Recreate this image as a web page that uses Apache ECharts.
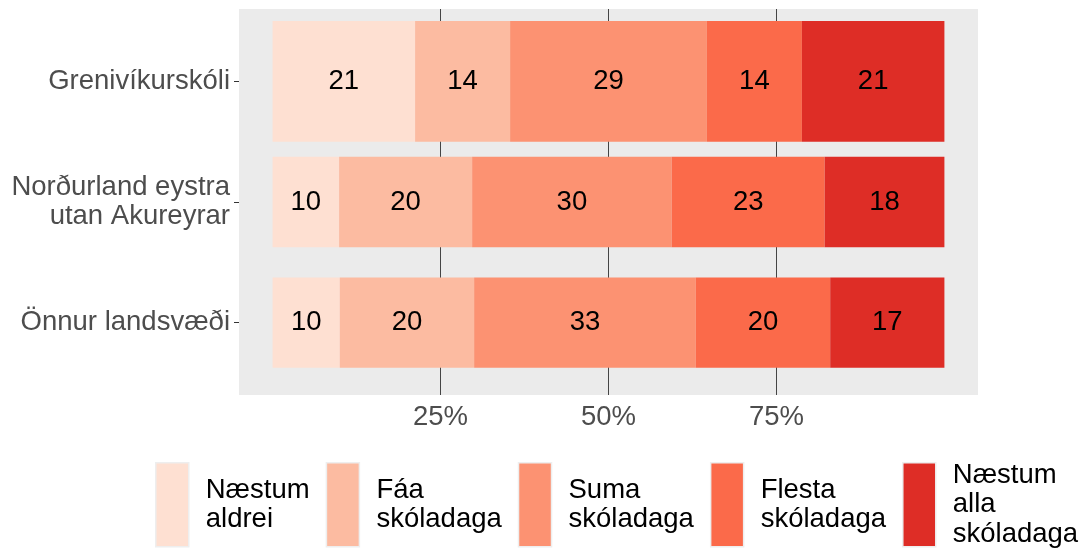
<!DOCTYPE html>
<html>
<head>
<meta charset="utf-8">
<script src="https://cdn.jsdelivr.net/npm/echarts@6/dist/echarts.min.js"></script>
<style>
  html, body { margin: 0; padding: 0; background: #ffffff; }
  #chart { width: 1086px; height: 553px; }
</style>
</head>
<body>
<div id="chart"></div>
<script>
// Groups, top to bottom
const groups = ['Grenivíkurskóli', 'Norðurland eystra utan Akureyrar', 'Önnur landsvæði'];
// Answer levels, left to right
const levels = ['Næstum aldrei', 'Fáa skóladaga', 'Suma skóladaga', 'Flesta skóladaga', 'Næstum alla skóladaga'];
// Percent of answers per level, one array per group
const grenivik = [21, 14, 29, 14, 21];
const nordurland = [10, 20, 30, 23, 18];
const onnur = [10, 20, 33, 20, 17];
// Percent axis tick labels
const xTicks = [25, 50, 75];

// ---- styling ----
const COLORS = ['#FEE0D2', '#FCBBA1', '#FC9272', '#FB6A4A', '#DE2D26'];
const BAR_THICKNESS = [1, 0.75, 0.75];   // share of a row's band taken by its bar
const FONT = '"Liberation Sans", Arial, Helvetica, sans-serif';
const FS = 27.5;

const rows = [grenivik, nordurland, onnur];
const sum = a => a.reduce((s, v) => s + v, 0);

function wrap(text, width) {
  const lines = [];
  let cur = '';
  text.split(' ').forEach(w => {
    if (!cur) cur = w;
    else if ((cur + ' ' + w).length <= width) cur += ' ' + w;
    else { lines.push(cur); cur = w; }
  });
  lines.push(cur);
  return lines.join('\n');
}

// Each level becomes one series; bars are stacked to fill 100% of each row
const series = levels.map((lvl, li) => ({
  type: 'custom',
  name: lvl,
  coordinateSystem: 'cartesian2d',
  itemStyle: { color: COLORS[li] },
  encode: { x: [0, 1], y: 2 },
  data: rows.map((r, gi) => {
    const total = sum(r);
    const start = sum(r.slice(0, li)) / total * 100;
    const end = start + r[li] / total * 100;
    return [start, end, gi + 1, r[li]];
  }),
  renderItem: (params, api) => {
    const row = api.value(2);
    const p0 = api.coord([api.value(0), row]);
    const p1 = api.coord([api.value(1), row]);
    const h = api.size([0, 1])[1] * BAR_THICKNESS[row - 1];
    return {
      type: 'group',
      children: [
        {
          type: 'rect',
          shape: { x: p0[0], y: p0[1] - h / 2, width: p1[0] - p0[0], height: h },
          style: { fill: api.visual('color') }
        },
        {
          type: 'text',
          x: (p0[0] + p1[0]) / 2,
          y: p0[1],
          style: {
            text: String(api.value(3)),
            fill: '#000000',
            fontSize: FS,
            fontFamily: FONT,
            align: 'center',
            verticalAlign: 'middle'
          }
        }
      ]
    };
  }
}));

const chart = echarts.init(document.getElementById('chart'), null, { renderer: 'canvas' });
chart.setOption({
  animation: false,
  backgroundColor: '#ffffff',
  textStyle: { fontFamily: FONT },
  grid: {
    left: 239, top: 9, width: 739, height: 386,
    show: true, backgroundColor: '#EBEBEB', borderWidth: 0
  },
  xAxis: {
    type: 'value',
    min: -5, max: 105,
    axisLine: { show: false, onZero: false },
    axisTick: { show: false, customValues: xTicks },
    axisLabel: {
      customValues: xTicks,
      formatter: '{value}%',
      fontSize: FS, color: '#4D4D4D', margin: 8, fontFamily: FONT
    },
    splitLine: { show: true, lineStyle: { color: '#444444', width: 1 } }
  },
  yAxis: {
    type: 'value',
    min: 0.4, max: 3.6,
    inverse: true,
    axisLine: { show: false, onZero: false },
    axisTick: { show: true, length: 5, customValues: [1, 2, 3], lineStyle: { color: '#333333', width: 1 } },
    axisLabel: {
      customValues: [1, 2, 3],
      formatter: v => wrap(groups[Math.round(v) - 1], 20),
      fontSize: FS, color: '#4D4D4D', lineHeight: 29.5, margin: 9, fontFamily: FONT
    },
    splitLine: { show: false }
  },
  legend: {
    left: 155, top: 453.5,
    width: 1100,
    padding: 0,
    orient: 'horizontal',
    icon: 'rect',
    itemWidth: 33, itemHeight: 84,
    itemGap: 16,
    selectedMode: false,
    itemStyle: { borderColor: '#EEEEEE', borderWidth: 1.5 },
    formatter: name => wrap(name, 10),
    textStyle: {
      fontSize: FS, color: '#000000', lineHeight: 29.5, fontFamily: FONT,
      padding: [14, 0, 0, 12]
    },
    data: levels
  },
  series: series
});
</script>
</body>
</html>
